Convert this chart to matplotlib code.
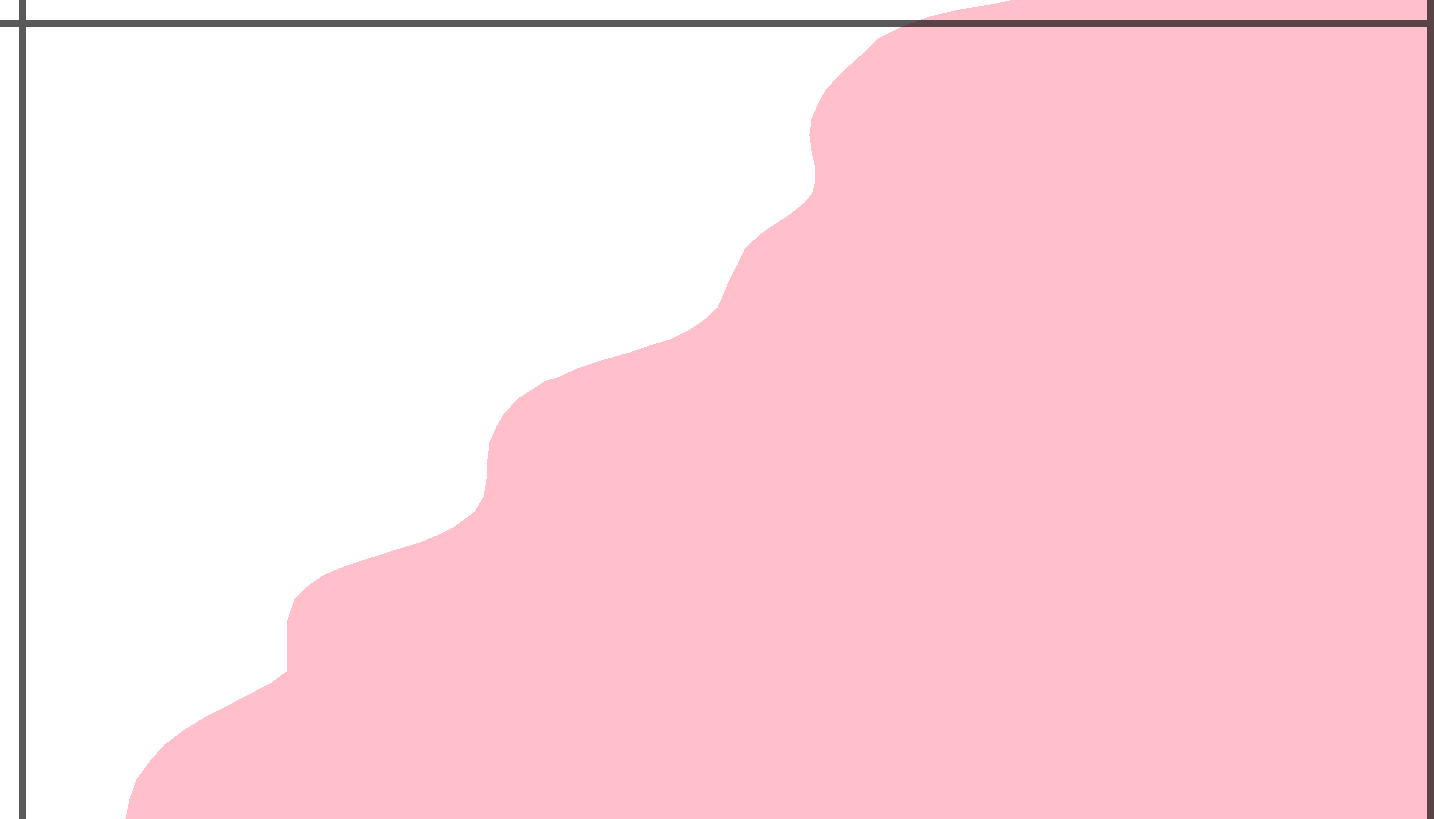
import numpy as np
import matplotlib
matplotlib.use("Agg")
import matplotlib.pyplot as plt

# boundary of the filled region (x as a function of y)
curve_y = [0, 2.39, 4.90, 7.16, 9.29, 11.17, 12.68, 14.31, 15.94, 17.07, 18.46,
           20.59, 22.47, 24.98, 27.50, 29.38, 30.63, 31.64, 32.27, 33.52, 34.65,
           35.66, 36.66, 38.54, 40.43, 42.56, 45.07, 47.21, 49.22, 50.97, 52.86,
           54.87, 55.49, 56.62, 57.63, 58.51, 59.39, 60.14, 61.39, 62.65, 64.16,
           65.54, 67.67, 69.55, 71.44, 73.32, 74.58, 75.83, 77.34, 78.59, 80.23,
           82.11, 83.99, 85.88, 87.76, 89.64, 91.27, 93.41, 95.67, 98.05, 99.31,
           100.69, 101.57, 102.20, 102.70, 102.83, 103.45, 104.08]
curve_x = [7.35, 7.63, 8.13, 9.06, 10.12, 11.54, 12.96, 14.74, 16.51, 17.72, 18.79,
           18.79, 18.79, 18.86, 19.35, 20.42, 21.48, 22.90, 23.97, 26.10, 28.23,
           29.65, 30.72, 32.14, 32.78, 32.99, 33.06, 33.20, 33.70, 34.27, 35.33,
           37.11, 38.17, 39.60, 41.37, 43.15, 44.57, 45.99, 47.41, 48.47, 49.40,
           49.75, 50.25, 50.82, 51.31, 52.38, 53.44, 54.51, 55.58, 56.14, 56.36,
           56.29, 56.07, 55.93, 56.07, 56.50, 57.00, 58.06, 59.48, 60.90, 62.32,
           64.45, 66.58, 68.71, 70.14, 71.56, 76.53, 101.0]

# reference lines
vlines = [0, 100]
hline = 100

xlim = (-1.598, 100.25)
ylim = (0, 102.83)

fig = plt.figure(figsize=(14.34, 8.19), dpi=100)
ax = fig.add_axes([0, 0, 1, 1])
ax.set_xlim(*xlim)
ax.set_ylim(*ylim)
ax.axis("off")

ax.fill_betweenx(curve_y, curve_x, xlim[1] + 5, color="pink", linewidth=0,
                 antialiased=False, zorder=1)

lx = [vlines[0], vlines[0], np.nan, xlim[0] - 5, xlim[1] + 5, np.nan, vlines[1], vlines[1]]
ly = [ylim[0] - 5, ylim[1] + 5, np.nan, hline, hline, np.nan, ylim[0] - 5, ylim[1] + 5]
ax.plot(lx, ly, color="black", alpha=0.65, linewidth=5.04, zorder=2,
        solid_capstyle="butt")

fig.savefig("out.png", dpi=100)
